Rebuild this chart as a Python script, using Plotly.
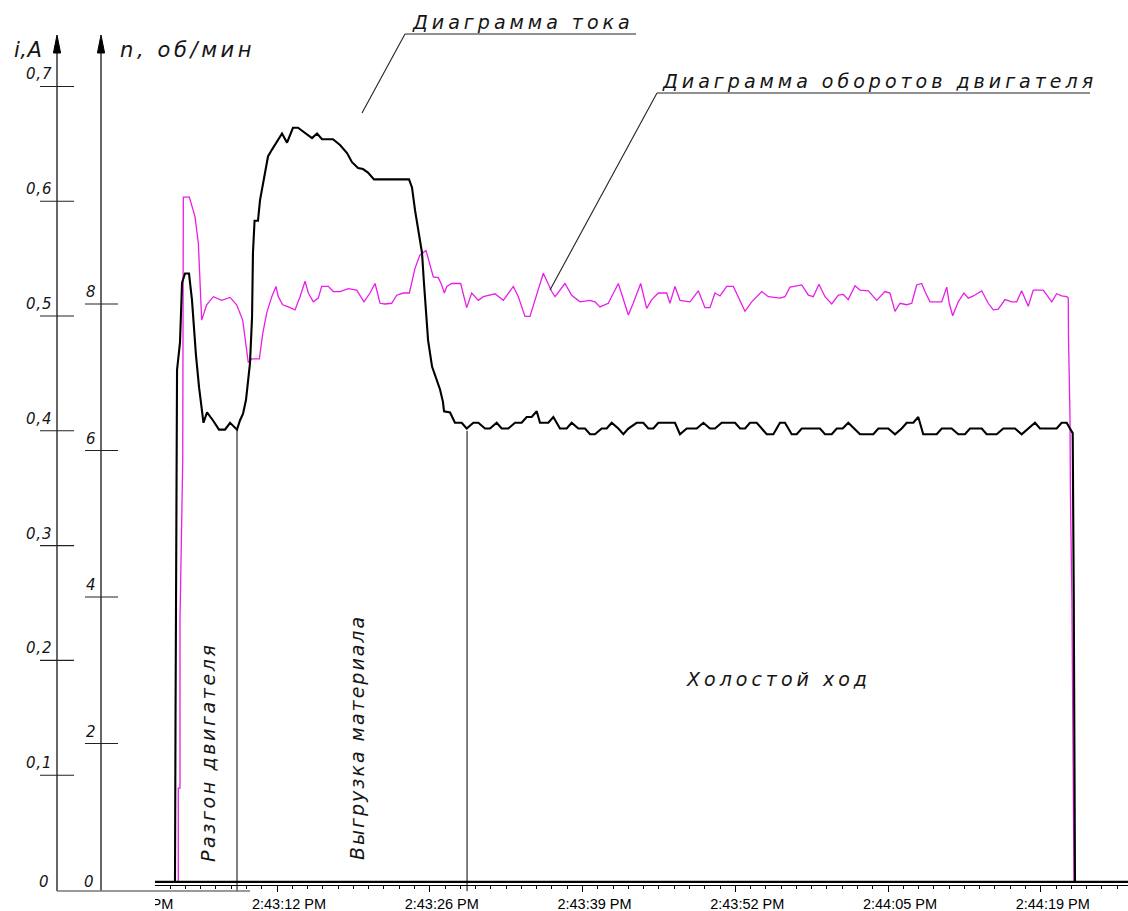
import plotly.graph_objects as go

W, H = 1128, 911

# ---------------- data (time: seconds after 2:43:00 PM) ----------------
# motor current i, A  (black curve)
current_points = [
    (1.70, 0.007), (3.45, 0.007), (3.50, 0.159), (3.63, 0.453), (3.89, 0.477), (4.07, 0.529),
    (4.33, 0.537), (4.68, 0.537), (4.94, 0.514), (5.29, 0.466), (5.56, 0.438), (5.82, 0.416),
    (5.95, 0.407), (6.26, 0.416), (6.79, 0.409), (7.31, 0.401), (7.84, 0.401), (8.28, 0.407),
    (8.89, 0.401), (9.15, 0.409), (9.42, 0.415), (9.68, 0.427), (9.86, 0.442), (10.03, 0.459),
    (10.21, 0.499), (10.29, 0.555), (10.43, 0.583), (10.73, 0.583), (10.91, 0.601), (11.17, 0.616),
    (11.44, 0.630), (11.61, 0.639), (11.96, 0.645), (12.40, 0.652), (12.84, 0.659), (13.28, 0.651),
    (13.80, 0.664), (14.24, 0.664), (14.68, 0.661), (15.47, 0.655), (15.91, 0.659), (16.35, 0.654),
    (17.31, 0.654), (17.93, 0.649), (18.54, 0.642), (18.98, 0.634), (19.51, 0.629), (19.94, 0.628),
    (20.38, 0.625), (20.91, 0.619), (23.98, 0.619), (24.24, 0.612), (24.51, 0.592), (24.77, 0.575),
    (25.12, 0.555), (25.29, 0.529), (25.47, 0.499), (25.65, 0.479), (26.00, 0.456), (26.44, 0.444),
    (26.70, 0.436), (26.96, 0.425), (27.05, 0.417), (27.58, 0.416), (28.01, 0.407), (28.60, 0.407),
    (29.04, 0.402), (29.62, 0.407), (30.06, 0.407), (30.65, 0.402), (31.08, 0.402), (31.67, 0.407),
    (32.11, 0.402), (32.69, 0.402), (33.28, 0.407), (33.86, 0.407), (34.30, 0.412), (34.74, 0.412),
    (35.18, 0.417), (35.47, 0.407), (36.20, 0.407), (36.64, 0.412), (37.22, 0.402), (37.81, 0.402),
    (38.25, 0.407), (38.83, 0.402), (39.42, 0.402), (39.86, 0.397), (40.29, 0.397), (40.88, 0.402),
    (41.32, 0.402), (41.76, 0.407), (42.34, 0.402), (42.78, 0.397), (43.22, 0.402), (43.95, 0.407),
    (44.53, 0.407), (44.97, 0.402), (45.41, 0.402), (45.85, 0.407), (47.31, 0.407), (47.75, 0.397),
    (48.34, 0.402), (49.22, 0.402), (49.80, 0.407), (50.38, 0.402), (50.82, 0.402), (51.41, 0.407),
    (52.58, 0.407), (53.02, 0.402), (53.46, 0.402), (53.89, 0.407), (54.48, 0.407), (55.36, 0.397),
    (55.94, 0.397), (56.52, 0.407), (56.96, 0.407), (57.55, 0.397), (57.99, 0.397), (58.43, 0.402),
    (60.03, 0.402), (60.47, 0.397), (61.06, 0.397), (61.50, 0.402), (62.02, 0.402), (62.51, 0.407),
    (63.54, 0.397), (64.71, 0.397), (65.15, 0.402), (66.02, 0.402), (66.61, 0.397), (67.20, 0.402),
    (67.64, 0.407), (68.22, 0.407), (68.65, 0.412), (69.09, 0.397), (70.27, 0.397), (70.71, 0.402),
    (71.58, 0.402), (72.16, 0.397), (72.75, 0.397), (73.19, 0.402), (74.22, 0.402), (74.65, 0.397),
    (75.53, 0.397), (76.11, 0.402), (77.14, 0.402), (77.72, 0.397), (78.89, 0.407), (79.33, 0.402),
    (80.79, 0.402), (81.23, 0.407), (81.67, 0.407), (81.96, 0.402), (82.20, 0.398), (82.29, 0.258),
    (82.34, 0.119), (82.40, 0.007), (88.00, 0.007),
]

# motor speed n (magenta curve), on the n scale of the chart
speed_points = [
    (1.70, 0.11), (3.74, 0.11), (3.74, 1.39), (3.89, 1.39), (3.89, 3.69), (4.13, 5.87),
    (4.18, 9.46), (4.71, 9.46), (5.21, 9.19), (5.50, 8.83), (5.79, 7.78), (6.23, 7.99),
    (6.81, 8.10), (7.55, 8.05), (8.28, 8.09), (8.86, 7.99), (9.39, 7.78), (9.74, 7.33),
    (9.88, 7.20), (10.18, 7.25), (10.85, 7.25), (11.15, 7.60), (11.50, 7.88), (11.94, 8.10),
    (12.31, 8.24), (12.51, 8.10), (12.90, 7.99), (13.39, 7.96), (13.98, 7.92), (14.42, 8.10),
    (14.86, 8.31), (15.15, 8.15), (15.58, 8.03), (16.02, 8.08), (16.32, 8.24), (16.90, 8.24),
    (17.34, 8.17), (17.93, 8.17), (18.65, 8.21), (19.39, 8.19), (20.03, 8.03), (20.56, 8.15),
    (21.00, 8.28), (21.44, 8.01), (21.87, 8.00), (22.46, 8.01), (22.90, 8.12), (23.48, 8.15),
    (24.01, 8.15), (24.51, 8.49), (24.94, 8.67), (25.47, 8.73), (25.82, 8.51), (26.11, 8.37),
    (26.55, 8.36), (26.85, 8.26), (27.08, 8.15), (27.29, 8.24), (27.72, 8.28), (28.51, 8.28),
    (29.04, 7.95), (29.48, 8.15), (30.06, 8.05), (30.50, 8.10), (31.52, 8.14), (32.25, 8.05),
    (33.13, 8.24), (33.57, 8.10), (34.15, 7.83), (34.59, 7.83), (35.76, 8.42), (36.50, 8.17),
    (36.79, 8.10), (37.66, 8.28), (38.25, 8.12), (38.98, 8.03), (39.86, 8.05), (40.29, 8.03),
    (40.73, 7.96), (41.46, 8.01), (42.34, 8.28), (43.22, 7.85), (43.65, 8.01), (44.30, 8.28),
    (44.83, 7.94), (45.27, 8.06), (45.85, 8.15), (46.58, 8.15), (46.87, 8.01), (47.31, 8.24),
    (47.75, 8.05), (48.63, 8.03), (49.36, 8.18), (49.94, 7.95), (50.38, 7.95), (50.82, 8.15),
    (51.26, 8.11), (51.85, 8.24), (52.43, 8.24), (53.45, 7.90), (54.04, 8.03), (54.92, 8.17),
    (55.50, 8.10), (56.52, 8.08), (56.96, 8.10), (57.40, 8.23), (58.43, 8.26), (59.01, 8.12),
    (59.44, 8.10), (59.94, 8.27), (60.47, 8.10), (61.06, 8.00), (61.64, 8.12), (62.08, 8.13),
    (62.51, 8.06), (63.10, 8.25), (63.54, 8.19), (64.27, 8.18), (65.01, 8.05), (65.73, 8.17),
    (66.17, 8.15), (66.61, 7.90), (67.05, 8.01), (67.64, 7.99), (68.08, 8.01), (68.51, 8.26),
    (68.95, 8.28), (69.24, 8.17), (69.68, 8.03), (70.71, 8.03), (71.15, 8.23), (71.37, 8.01),
    (71.67, 7.84), (72.16, 8.03), (72.66, 8.15), (73.04, 8.08), (73.48, 8.11), (74.22, 8.18),
    (74.79, 8.01), (75.23, 7.92), (75.67, 7.93), (76.26, 8.06), (76.85, 8.03), (77.29, 8.03),
    (77.72, 8.18), (78.30, 7.97), (78.74, 8.19), (79.62, 8.19), (80.36, 8.03), (80.79, 8.14),
    (81.23, 8.11), (81.67, 8.10), (81.81, 8.08), (81.83, 7.55), (81.96, 6.46), (82.00, 5.42),
    (82.13, 3.96), (82.31, 0.11), (88.00, 0.11),
]

time_tick_values = [-1.0, 12.4, 25.8, 39.2, 52.6, 66.0, 79.4]
time_tick_labels = ["2:42:59 PM", "2:43:12 PM", "2:43:26 PM", "2:43:39 PM",
                    "2:43:52 PM", "2:44:05 PM", "2:44:19 PM"]
time_minor_step = 1.34

current_ticks = [0.1, 0.2, 0.3, 0.4, 0.5, 0.6, 0.7]
current_tick_labels = ["0,1", "0,2", "0,3", "0,4", "0,5", "0,6", "0,7"]
speed_ticks = [2, 4, 6, 8]
speed_tick_labels = ["2", "4", "6", "8"]

phase_times = [8.89, 29.07]      # boundaries: start-up | unloading | idle
phase_levels = [0.401, 0.400]
baseline_level = 0.007           # recorder zero line of the time chart

x_range = [-11.90, 87.05]
current_range = [-0.0183, 0.7753]
speed_range = [-0.2867, 12.1502]

# ---------------- helpers ----------------
def px(x):
    return x / W


def py(y):
    return 1 - y / H


CAD = "DejaVu Sans, Liberation Sans, sans-serif"
INK = "#151515"


def spaced(s, ls):
    return f'<span style="letter-spacing:{ls}px">{s}</span>'


tc = [p[0] for p in current_points]
ic = [p[1] for p in current_points]
ts = [p[0] for p in speed_points]
ns = [p[1] for p in speed_points]

fig = go.Figure()
fig.add_trace(go.Scatter(x=ts, y=ns, mode="lines", yaxis="y",
                         line=dict(color="#e81ee8", width=1.3), hoverinfo="skip"))
fig.add_trace(go.Scatter(x=tc, y=ic, mode="lines", yaxis="y2",
                         line=dict(color="black", width=2.1), hoverinfo="skip"))

shapes = []
# recorder zero line (thick) above the time axis
shapes.append(dict(type="line", xref="x", yref="y2", x0=x_range[0], x1=x_range[1],
                   y0=baseline_level, y1=baseline_level, line=dict(color="black", width=2.2)))
# phase boundaries
for tb, lv in zip(phase_times, phase_levels):
    shapes.append(dict(type="line", xref="x", yref="y2", x0=tb, x1=tb, y0=-0.001, y1=lv,
                       line=dict(color="black", width=1)))
# cover the clipped part of the time axis on the left
shapes.append(dict(type="rect", xref="paper", yref="paper", x0=0, x1=px(155), y0=0, y1=py(872),
                   fillcolor="white", line=dict(width=0), layer="above"))
# vertical axes (i and n) with arrow heads
for ax_x in (57, 101):
    shapes.append(dict(type="line", xref="paper", yref="paper", x0=px(ax_x), x1=px(ax_x),
                       y0=py(891), y1=py(48), line=dict(color="black", width=1.2), layer="above"))
    shapes.append(dict(type="path", xref="paper", yref="paper",
                       path=f"M {px(ax_x)} {py(35)} L {px(ax_x - 3.6)} {py(53)} L {px(ax_x + 3.6)} {py(53)} Z",
                       fillcolor="black", line=dict(color="black", width=1), layer="above"))
# base line of the vertical axes
shapes.append(dict(type="line", xref="paper", yref="paper", x0=px(57), x1=px(250),
                   y0=py(891), y1=py(891), line=dict(color="#777777", width=1.6), layer="above"))
# tick marks of the i scale
for v in current_ticks:
    shapes.append(dict(type="line", xref="paper", yref="y2", x0=px(40), x1=px(74), y0=v, y1=v,
                       line=dict(color="#222222", width=1.1)))
# tick marks of the n scale
for v in speed_ticks:
    shapes.append(dict(type="line", xref="paper", yref="y", x0=px(85), x1=px(118), y0=v, y1=v,
                       line=dict(color="#222222", width=1.1)))
# leader lines of the captions
for seg in [((405, 34), (636, 34)), ((405, 34), (362, 113)),
            ((657, 93), (1090, 93)), ((657, 93), (550, 290))]:
    (x0, y0), (x1, y1) = seg
    shapes.append(dict(type="line", xref="paper", yref="paper", x0=px(x0), x1=px(x1),
                       y0=py(y0), y1=py(y1), line=dict(color="#222222", width=1.1)))

annotations = []


def add_text(text, x, y, xanchor="left", yanchor="middle", size=19, angle=0, ls=0):
    annotations.append(dict(text=spaced(text, ls) if ls else text, xref="paper", yref="paper",
                            x=px(x), y=py(y), xanchor=xanchor, yanchor=yanchor, showarrow=False,
                            textangle=angle,
                            font=dict(family=CAD, size=size, color=INK, style="italic",
                                      weight=200)))


add_text("i,A", 12, 50, size=21, ls=0.5)
add_text("n, об/мин", 118, 50, size=21, ls=3.6)
add_text("Диаграмма тока", 410, 35, yanchor="bottom", size=19, ls=4)
add_text("Диаграмма оборотов двигателя", 660, 94, yanchor="bottom", size=19, ls=4)
add_text("Разгон двигателя", 208, 752, xanchor="center", angle=-90, size=19, ls=2.6)
add_text("Выгрузка материала", 357, 738, xanchor="center", angle=-90, size=19, ls=2)
add_text("Холостой ход", 778, 679, xanchor="center", size=19, ls=4)
add_text("0", 44, 882, xanchor="center", size=15)
add_text("0", 88.5, 882, xanchor="center", size=15)

for v, lab in zip(current_ticks, current_tick_labels):
    annotations.append(dict(text=spaced(lab, 0.8), xref="paper", yref="y2", x=px(54), y=v,
                            xanchor="right", yanchor="bottom", yshift=1, showarrow=False,
                            font=dict(family=CAD, size=15, color=INK, style="italic", weight=200)))
for v, lab in zip(speed_ticks, speed_tick_labels):
    annotations.append(dict(text=lab, xref="paper", yref="y", x=px(84), y=v, xanchor="left",
                            yanchor="bottom", yshift=1, showarrow=False,
                            font=dict(family=CAD, size=15, color=INK, style="italic", weight=200)))

fig.update_layout(
    template="none",
    width=W, height=H,
    margin=dict(l=0, r=0, t=0, b=0, pad=0),
    paper_bgcolor="white", plot_bgcolor="white",
    showlegend=False,
    xaxis=dict(range=x_range, anchor="free", position=py(885), showline=True,
               linecolor="black", linewidth=1, ticks="outside", ticklen=6, tickwidth=1,
               tickcolor="black", tickmode="array", tickvals=time_tick_values,
               ticktext=time_tick_labels, ticklabelshift=12,
               tickfont=dict(family="Liberation Sans, Arial, sans-serif", size=14.5, color="black"),
               showgrid=False, zeroline=False, automargin=False, fixedrange=True,
               minor=dict(ticks="outside", ticklen=3, tickwidth=1, tickcolor="black",
                          tickmode="linear", tick0=time_tick_values[0], dtick=time_minor_step,
                          showgrid=False)),
    yaxis=dict(range=speed_range, domain=[0, 1], visible=False, fixedrange=True),
    yaxis2=dict(range=current_range, overlaying="y", visible=False, fixedrange=True),
    shapes=shapes,
    annotations=annotations,
)

fig.write_html("out.html", config={"displayModeBar": False, "staticPlot": True})
